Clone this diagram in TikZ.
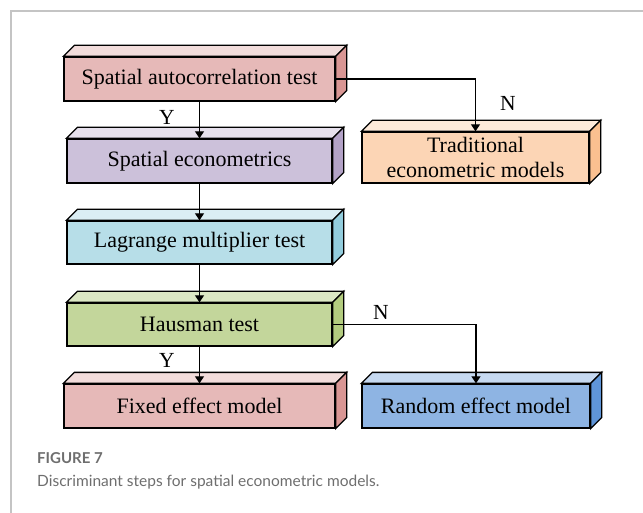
\documentclass[tikz,border=0pt]{standalone}
\usepackage{fontspec}
\setmainfont{Liberation Serif}
\newfontfamily\capfont{Lato}
\usetikzlibrary{arrows.meta}

% colours of the three faces of each block: front, top, side
\definecolor{redF}{HTML}{E6B9B8}\definecolor{redT}{HTML}{F2DCDB}\definecolor{redS}{HTML}{D99694}
\definecolor{purF}{HTML}{CCC1DA}\definecolor{purT}{HTML}{E6E0EC}\definecolor{purS}{HTML}{B3A2C7}
\definecolor{orgF}{HTML}{FCD5B5}\definecolor{orgT}{HTML}{FDEADA}\definecolor{orgS}{HTML}{FAC090}
\definecolor{cyaF}{HTML}{B7DEE8}\definecolor{cyaT}{HTML}{DBEEF4}\definecolor{cyaS}{HTML}{93CDDD}
\definecolor{grnF}{HTML}{C3D69B}\definecolor{grnT}{HTML}{DCE8C4}\definecolor{grnS}{HTML}{B3CC7F}
\definecolor{bluF}{HTML}{8EB4E3}\definecolor{bluT}{HTML}{C6D9F1}\definecolor{bluS}{HTML}{5F95D8}
\definecolor{framegray}{HTML}{C4C4C4}
\definecolor{capgray}{HTML}{6E6E6E}

\tikzset{
  face/.style={draw=black, line width=1.3pt, line join=miter},
  block/.style={face, inner sep=0pt, align=center,
    font=\fontsize{22}{25}\selectfont},
  flow/.style={draw=black, line width=1.2pt,
    -{Triangle[length=7pt,width=9pt]}},
  yn/.style={font=\fontsize{21.5}{25}\selectfont, inner sep=0pt},
}

% top and right faces of a block, drawn behind its front face
\newcommand\blockfaces[3]{%
  \draw[face, fill=#2] (#1.north west) -- ++(11,-11)
    -- ([shift={(11,-11)}]#1.north east) -- (#1.north east) -- cycle;
  \draw[face, fill=#3] (#1.north east) -- ++(11,-11)
    -- ([shift={(11,-11)}]#1.south east) -- (#1.south east) -- cycle;}

\begin{document}
\begin{tikzpicture}[x=1pt, y=-1pt]
\useasboundingbox (0,0) rectangle (643,513);

% frame
\draw[framegray, line width=1.5pt] (11,513) -- (11,11) -- (643,11);

% blocks
\node[block, fill=redF, minimum width=271pt, minimum height=44pt] (auto) at (199.5,79) {Spatial autocorrelation test};
\blockfaces{auto}{redT}{redS}
\node[block, fill=purF, minimum width=265pt, minimum height=44pt] (econ) at (199.5,161) {Spatial econometrics};
\blockfaces{econ}{purT}{purS}
\node[block, fill=orgF, minimum width=227pt, minimum height=51pt] (trad) at (475.5,157.5) {Traditional\\econometric models};
\blockfaces{trad}{orgT}{orgS}
\node[block, fill=cyaF, minimum width=265pt, minimum height=43pt] (lm) at (199.5,242.5) {Lagrange multiplier test};
\blockfaces{lm}{cyaT}{cyaS}
\node[block, fill=grnF, minimum width=265pt, minimum height=43pt] (haus) at (199.5,324.5) {Hausman test};
\blockfaces{haus}{grnT}{grnS}
\node[block, fill=redF, minimum width=271pt, minimum height=44pt] (fixed) at (199.5,406) {Fixed effect model};
\blockfaces{fixed}{redT}{redS}
\node[block, fill=bluF, minimum width=228pt, minimum height=44pt] (rand) at (476,406) {Random effect model};
\blockfaces{rand}{bluT}{bluS}

% connectors
\draw[flow] (auto.south) -- (econ.north);
\draw[flow] (econ.south) -- (lm.north);
\draw[flow] (lm.south) -- (haus.north);
\draw[flow] (haus.south) -- (fixed.north);
\draw[flow] (auto.east) -| (trad.north);
\draw[flow] (haus.east) -| (rand.north);

% decision labels
\node[yn] (y1) at (167,117) {Y};
\node[yn] (y2) at (167,360) {Y};
\node[yn] (n1) at (508,103) {N};
\node[yn] (n2) at (381,312) {N};

% caption
\node[anchor=base west, inner sep=0pt, text=capgray,
  font=\capfont\bfseries\fontsize{15}{18}\selectfont] (figno) at (37,463) {FIGURE 7};
\node[anchor=base west, inner sep=0pt, text=capgray,
  font=\capfont\fontsize{15.5}{19}\selectfont] (captxt) at (37,486)
  {Discriminant steps for spatial econometric models.};
\end{tikzpicture}
\end{document}
